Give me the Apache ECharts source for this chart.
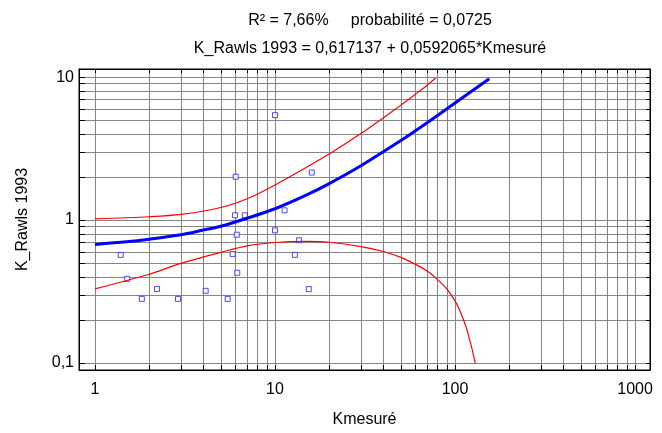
<!DOCTYPE html>
<html>
<head>
<meta charset="utf-8">
<script src="https://cdn.jsdelivr.net/npm/echarts@6/dist/echarts.min.js"></script>
<style>
  html, body { margin: 0; padding: 0; background: #fff; }
  #chart { width: 662px; height: 433px; }
</style>
</head>
<body>
<div id="chart"></div>
<script>
// measured points (Kmesuré, K_Rawls 1993)
const pointsX = [10, 6.05, 16.0, 6.0, 6.8, 11.3, 6.13, 10.0, 13.6, 1.39, 5.82, 12.9, 6.17, 1.51, 2.21, 15.4, 4.12, 1.82, 2.89, 5.46];
const pointsY = [5.42, 2.01, 2.15, 1.08, 1.08, 1.17, 0.79, 0.848, 0.723, 0.571, 0.578, 0.571, 0.428, 0.388, 0.33, 0.329, 0.32, 0.281, 0.281, 0.281];

// fitted line
const fitX = [1, 1.5, 2, 3, 4, 5, 7, 10, 15, 20, 30, 50, 70, 100, 155];
const fitY = [0.676, 0.705, 0.735, 0.79, 0.852, 0.905, 1.03, 1.2, 1.5, 1.8, 2.4, 3.6, 4.8, 6.6, 9.75];

// upper / lower confidence limits
const upperX = [1, 2, 3, 5, 7, 10, 20, 30, 38.3, 50, 60, 70, 78];
const upperY = [1.02, 1.055, 1.095, 1.225, 1.41, 1.76, 2.9, 4.03, 5.0, 6.37, 7.56, 8.77, 9.85];
const lowerX = [1, 2, 3, 5, 7, 10, 15, 20, 30, 40, 50, 60, 70, 80, 90, 100, 106, 112, 116, 120, 125, 129.5];
const lowerY = [0.33, 0.418, 0.498, 0.594, 0.66, 0.697, 0.71, 0.70, 0.653, 0.603, 0.548, 0.492, 0.44, 0.383, 0.33, 0.272, 0.235, 0.197, 0.174, 0.149, 0.122, 0.1];

const xTickLabels = [1, 10, 100, 1000];
const yTickLabels = [0.1, 1, 10];

const titleLine1 = "R² = 7,66%     probabilité = 0,0725";
const titleLine2 = "K_Rawls 1993 = 0,617137 + 0,0592065*Kmesuré";

function zip(xs, ys) {
  return xs.map((x, i) => [x, ys[i]]);
}
// grid lines at 1..9 of every decade
function logGrid(from, to) {
  const out = [];
  for (let d = from; d < to; d *= 10) {
    for (let k = 1; k < 10; k++) out.push(+(k * d).toPrecision(3));
  }
  out.push(to);
  return out;
}
const xGrid = logGrid(1, 1000);
const yGrid = logGrid(0.1, 10);

const font = "Liberation Sans";
const fmt = v => String(v).replace(".", ",");

const chart = echarts.init(document.getElementById("chart"));

const xBase = {
  type: "log",
  min: 0.815,
  max: 1211,
  axisLine: { show: true, onZero: false, lineStyle: { color: "#000", width: 1 } }
};
const yBase = {
  type: "log",
  min: 0.0894,
  max: 11.4,
  axisLine: { show: true, onZero: false, lineStyle: { color: "#000", width: 1 } }
};

let option = {
  animation: false,
  backgroundColor: "#fff",
  textStyle: { fontFamily: font },
  title: [
    {
      text: titleLine1,
      left: 365,
      top: 8,
      textAlign: "center",
      textStyle: { fontFamily: font, fontSize: 16, fontWeight: "normal", color: "#000" }
    },
    {
      text: titleLine2,
      left: 365,
      top: 36,
      textAlign: "center",
      textStyle: { fontFamily: font, fontSize: 16, fontWeight: "normal", color: "#000" }
    }
  ],
  grid: {
    left: 79,
    right: 12,
    top: 69,
    bottom: 60,
    show: true,
    borderColor: "#000",
    borderWidth: 1,
    backgroundColor: "#fff"
  },
  xAxis: [
    Object.assign({}, xBase, {
      position: "bottom",
      name: "Kmesuré",
      nameLocation: "middle",
      nameGap: 42,
      nameTextStyle: { fontFamily: font, fontSize: 16, color: "#000" },
      axisTick: { show: true, inside: true, length: 5, customValues: xGrid, lineStyle: { color: "#000" } },
      axisLabel: {
        customValues: xTickLabels,
        formatter: fmt,
        margin: 12,
        fontFamily: font,
        fontSize: 16,
        color: "#000"
      },
      splitLine: { show: true, lineStyle: { color: "#858585", width: 1 } }
    }),
    Object.assign({}, xBase, {
      position: "top",
      axisTick: { show: true, inside: true, length: 4, customValues: xGrid, lineStyle: { color: "#000" } },
      axisLabel: { show: false },
      splitLine: { show: false }
    })
  ],
  yAxis: [
    Object.assign({}, yBase, {
      position: "left",
      name: "K_Rawls 1993",
      nameLocation: "middle",
      nameGap: 48,
      nameTextStyle: { fontFamily: font, fontSize: 16, color: "#000" },
      axisTick: { show: true, inside: true, length: 6, customValues: yGrid, lineStyle: { color: "#000" } },
      axisLabel: {
        customValues: yTickLabels,
        formatter: fmt,
        margin: 5,
        fontFamily: font,
        fontSize: 16,
        color: "#000"
      },
      splitLine: { show: true, lineStyle: { color: "#858585", width: 1 } }
    }),
    Object.assign({}, yBase, {
      position: "right",
      axisTick: { show: true, inside: true, length: 4, customValues: yGrid, lineStyle: { color: "#000" } },
      axisLabel: { show: false },
      splitLine: { show: false }
    })
  ],
  series: [
    {
      type: "line",
      data: zip(upperX, upperY),
      showSymbol: false,
      smooth: 0.3,
      lineStyle: { color: "#ff0000", width: 1.2 }
    },
    {
      type: "line",
      data: zip(lowerX, lowerY),
      showSymbol: false,
      smooth: 0.3,
      lineStyle: { color: "#ff0000", width: 1.2 }
    },
    {
      type: "line",
      data: zip(fitX, fitY),
      showSymbol: false,
      smooth: 0.3,
      lineStyle: { color: "#0000ff", width: 3 }
    },
    {
      type: "scatter",
      data: zip(pointsX, pointsY),
      symbol: "rect",
      symbolSize: 5,
      itemStyle: { color: "#fff", borderColor: "#1f1fff", borderWidth: 1 }
    }
  ]
};

chart.setOption(option);
</script>
</body>
</html>
